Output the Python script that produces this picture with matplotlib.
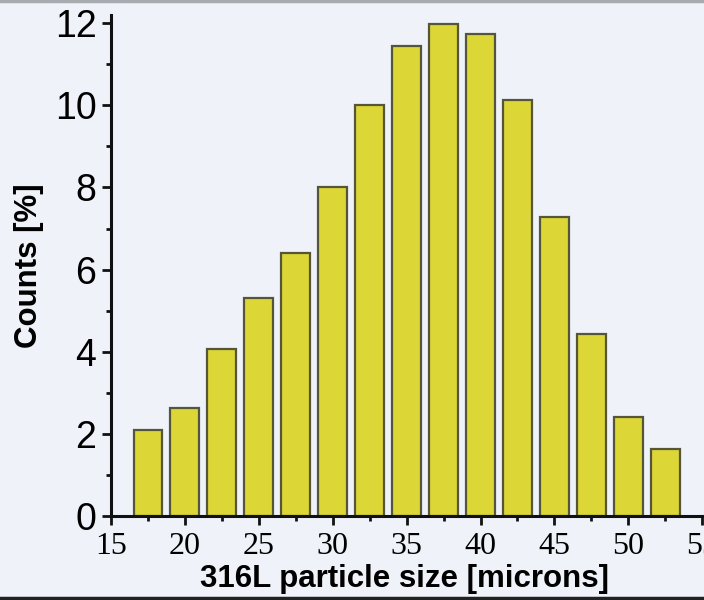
import numpy as np
import matplotlib.pyplot as plt
from matplotlib.ticker import MultipleLocator

# particle size bin centres [microns] and counts [%]
size_bins = [17.5, 20, 22.5, 25, 27.5, 30, 32.5, 35, 37.5, 40, 42.5, 45, 47.5, 50, 52.5]
counts = [2.1, 2.63, 4.07, 5.3, 6.4, 8.02, 10.02, 11.45, 11.98, 11.73, 10.12, 7.29, 4.42, 2.42, 1.63]
x_ticks = [15, 20, 25, 30, 35, 40, 45, 50, 55]
y_ticks = [0, 2, 4, 6, 8, 10, 12]

bg = '#eff3f9'
fig = plt.figure(figsize=(7.04, 6.0), dpi=100, facecolor=bg)
ax = fig.add_axes([111/704, 84/600, 606/704, 501/600], facecolor=bg)

ax.bar(size_bins, counts, width=1.95, color='#dcd637', edgecolor='#55553a', linewidth=1.6, zorder=2)

ax.set_xlim(15, 56)
ax.set_ylim(0, 12.2)
ax.set_xticks(x_ticks)
ax.set_yticks(y_ticks)
ax.xaxis.set_minor_locator(MultipleLocator(2.5))
ax.yaxis.set_minor_locator(MultipleLocator(1))

for s in ['top', 'right']:
    ax.spines[s].set_visible(False)
for s in ['left', 'bottom']:
    ax.spines[s].set_linewidth(2.2)
    ax.spines[s].set_color('#111111')

ax.tick_params(which='major', direction='out', length=6.5, width=2, color='#111111')
ax.tick_params(which='minor', direction='out', length=3.5, width=2, color='#111111')
ax.tick_params(axis='y', which='major', labelsize=27, pad=4)
ax.tick_params(axis='x', which='major', labelsize=23, pad=5)
for lab in ax.get_yticklabels():
    lab.set_family('Liberation Sans')
for lab in ax.get_xticklabels():
    lab.set_family('Liberation Serif')

# the reference itself cuts the last x tick label ("55") at the right edge
ax.set_ylabel('Counts [%]', fontsize=22.5, fontweight='bold', family='Liberation Sans', labelpad=8)
fig.text(405/704, 1 - 579/600, '316L particle size [microns]', fontsize=22.5, fontweight='bold',
         family='Liberation Sans', ha='center', va='center')

# screenshot frame lines
fig.add_artist(plt.Line2D([0, 1], [0.998, 0.998], color='#a8abb0', linewidth=2.5, transform=fig.transFigure))
fig.add_artist(plt.Line2D([0, 1], [0.003, 0.003], color='#222222', linewidth=2.5, transform=fig.transFigure))

fig.savefig('out.png', dpi=100, facecolor=bg)
